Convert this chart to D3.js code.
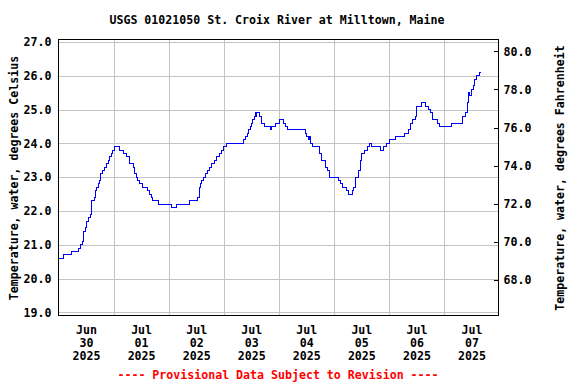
<!DOCTYPE html>
<html><head><meta charset="utf-8">
<script src="https://cdn.jsdelivr.net/npm/d3@7"></script>
<style>
body{margin:0;background:#fff}
text{font-family:"DejaVu Sans Mono",monospace;font-weight:bold;font-size:11.6px;fill:#000}
</style>
</head><body>
<svg id="chart" width="576" height="384"></svg>
<script>
// ---- data ----
const times = [
"2025-06-30 00:00","2025-06-30 02:00","2025-06-30 05:30","2025-06-30 08:30","2025-06-30 09:30",
"2025-06-30 10:15","2025-06-30 10:45","2025-06-30 11:00","2025-06-30 11:45","2025-06-30 12:15",
"2025-06-30 13:00","2025-06-30 13:45","2025-06-30 14:15","2025-06-30 15:30","2025-06-30 16:15",
"2025-06-30 16:45","2025-06-30 17:15","2025-06-30 17:45","2025-06-30 18:30","2025-06-30 19:15",
"2025-06-30 20:00","2025-06-30 21:00","2025-06-30 21:45","2025-06-30 22:15","2025-06-30 23:00",
"2025-06-30 23:30","2025-07-01 00:30","2025-07-01 02:30","2025-07-01 04:15","2025-07-01 05:45",
"2025-07-01 06:45","2025-07-01 08:30","2025-07-01 09:15","2025-07-01 10:00","2025-07-01 10:30",
"2025-07-01 11:30","2025-07-01 12:30","2025-07-01 14:45","2025-07-01 15:45","2025-07-01 16:30",
"2025-07-01 17:00","2025-07-01 19:45","2025-07-02 01:15","2025-07-02 03:15","2025-07-02 09:15",
"2025-07-02 12:45","2025-07-02 13:15","2025-07-02 14:00","2025-07-02 14:30","2025-07-02 15:00",
"2025-07-02 16:00","2025-07-02 16:45","2025-07-02 17:45","2025-07-02 18:45","2025-07-02 20:00",
"2025-07-02 21:00","2025-07-02 22:00","2025-07-02 23:00","2025-07-03 00:00","2025-07-03 01:15",
"2025-07-03 08:30","2025-07-03 09:30","2025-07-03 10:15","2025-07-03 10:45","2025-07-03 11:30",
"2025-07-03 12:15","2025-07-03 12:45","2025-07-03 13:15","2025-07-03 13:45","2025-07-03 14:00",
"2025-07-03 14:15","2025-07-03 15:45","2025-07-03 16:30","2025-07-03 18:00","2025-07-03 20:15",
"2025-07-03 21:00","2025-07-03 22:45","2025-07-04 00:30","2025-07-04 02:00","2025-07-04 02:45",
"2025-07-04 03:45","2025-07-04 11:45","2025-07-04 12:00","2025-07-04 13:00","2025-07-04 13:30",
"2025-07-04 14:00","2025-07-04 14:45","2025-07-04 17:45","2025-07-04 18:45","2025-07-04 20:15",
"2025-07-04 21:15","2025-07-04 22:00","2025-07-05 02:00","2025-07-05 03:00","2025-07-05 04:00",
"2025-07-05 05:30","2025-07-05 06:30","2025-07-05 08:15","2025-07-05 08:45","2025-07-05 09:30",
"2025-07-05 10:45","2025-07-05 11:30","2025-07-05 12:15","2025-07-05 13:15","2025-07-05 14:30",
"2025-07-05 15:45","2025-07-05 16:15","2025-07-05 20:30","2025-07-05 21:30","2025-07-05 23:00",
"2025-07-06 00:15","2025-07-06 03:00","2025-07-06 07:00","2025-07-06 08:30","2025-07-06 09:30",
"2025-07-06 10:30","2025-07-06 11:30","2025-07-06 12:00","2025-07-06 14:15","2025-07-06 15:45",
"2025-07-06 17:15","2025-07-06 18:00","2025-07-06 19:00","2025-07-06 21:00","2025-07-06 22:00",
"2025-07-07 03:30","2025-07-07 08:15","2025-07-07 09:30","2025-07-07 10:15","2025-07-07 10:30",
"2025-07-07 11:15","2025-07-07 12:00","2025-07-07 12:45","2025-07-07 13:30","2025-07-07 14:15",
"2025-07-07 15:30","2025-07-07 16:00"
];
const tempC = [
20.6,20.7,20.8,20.9,21.0,
21.1,21.2,21.4,21.5,21.7,
21.8,21.9,22.3,22.4,22.6,
22.7,22.8,22.9,23.1,23.2,
23.3,23.4,23.5,23.6,23.7,
23.8,23.9,23.8,23.7,23.6,
23.4,23.3,23.1,23.0,22.9,
22.8,22.7,22.6,22.5,22.4,
22.3,22.2,22.1,22.2,22.3,
22.4,22.7,22.8,22.9,23.0,
23.1,23.2,23.3,23.4,23.5,
23.6,23.7,23.8,23.9,24.0,
24.1,24.2,24.3,24.4,24.5,
24.6,24.7,24.8,24.9,24.8,
24.9,24.8,24.6,24.5,24.4,
24.5,24.6,24.7,24.6,24.5,
24.4,24.3,24.2,24.1,24.2,
24.0,23.9,23.7,23.5,23.3,
23.2,23.0,22.9,22.8,22.7,
22.6,22.5,22.6,22.7,23.0,
23.2,23.5,23.7,23.8,23.9,
24.0,23.9,23.8,23.9,24.0,
24.1,24.2,24.3,24.4,24.6,
24.7,24.8,25.1,25.2,25.1,
25.0,24.9,24.7,24.6,24.5,
24.6,24.8,24.9,25.2,25.5,
25.4,25.6,25.7,25.9,26.0,
26.1,26.1
];
const tickC = [19,20,21,22,23,24,25,26,27];
const tickF = [68,70,72,74,76,78,80];
const dayStarts = ["2025-06-30","2025-07-01","2025-07-02","2025-07-03","2025-07-04","2025-07-05","2025-07-06","2025-07-07","2025-07-08"];
const titleText = "USGS 01021050 St. Croix River at Milltown, Maine";
const leftTitle = "Temperature, water, degrees Celsius";
const rightTitle = "Temperature, water, degrees Fahrenheit";
const noteText = "---- Provisional Data Subject to Revision ----";

// ---- drawing ----
const parseT = d3.timeParse("%Y-%m-%d %H:%M");
const parseD = d3.timeParse("%Y-%m-%d");
const data = times.map((t,i)=>({t:parseT(t), v:tempC[i]}));
const days = dayStarts.map(parseD);

const L=58.5, R=498.5, T=39.5, B=315.5;
const svg = d3.select("#chart");

const x = d3.scaleTime().domain([days[0], days[days.length-1]]).range([L, R+0.5]);
const y = d3.scaleLinear().domain([18.91, 27.07]).range([B, T]);
const yF = d3.scaleLinear().domain([66.15, 80.62]).range([B, T]);

// grid
const grid = svg.append("g").attr("shape-rendering","crispEdges");
grid.append("g").attr("transform",`translate(${L},0)`)
  .call(d3.axisLeft(y).tickValues(tickC).tickSize(-(R-L)).tickFormat(""))
  .call(g=>g.select(".domain").remove())
  .call(g=>g.selectAll("line").attr("stroke","#c4c4c4"));
grid.append("g").attr("transform",`translate(0,${B})`)
  .call(d3.axisBottom(x).tickValues(days.slice(1,-1)).tickSize(-(B-T)).tickFormat(""))
  .call(g=>g.select(".domain").remove())
  .call(g=>g.selectAll("line").attr("stroke","#c4c4c4"));

// data line
const line = d3.line().x(d=>x(d.t)).y(d=>y(d.v)).curve(d3.curveStepAfter);
svg.append("path").datum(data).attr("d",line)
  .attr("fill","none").attr("stroke","#0000ff").attr("stroke-width",1)
  .attr("shape-rendering","crispEdges");

// frame
svg.append("rect").attr("x",L).attr("y",T).attr("width",R-L).attr("height",B-T)
  .attr("fill","none").attr("stroke","#000").attr("shape-rendering","crispEdges");

// left axis labels
svg.append("g").attr("transform",`translate(${L},0)`)
  .call(d3.axisLeft(y).tickValues(tickC).tickSize(0).tickPadding(7).tickFormat(d3.format(".1f")))
  .call(g=>g.select(".domain").remove())
  .call(g=>g.selectAll("text").attr("font-family",null).attr("font-size",null));

// right axis
svg.append("g").attr("transform",`translate(${R},0)`).attr("shape-rendering","crispEdges")
  .call(d3.axisRight(yF).tickValues(tickF).tickSize(-5).tickPadding(5).tickFormat(d3.format(".1f")))
  .call(g=>g.select(".domain").remove())
  .call(g=>g.selectAll("line").attr("stroke","#000"))
  .call(g=>g.selectAll("text").attr("font-family",null).attr("font-size",null));

// bottom axis labels (centered at noon)
const noon = days.slice(0,-1).map(d=>d3.timeHour.offset(d,12));
const bx = svg.append("g").attr("transform",`translate(0,${B})`)
  .call(d3.axisBottom(x).tickValues(noon).tickSize(0).tickFormat(""))
  .call(g=>g.select(".domain").remove());
bx.selectAll(".tick").each(function(d){
  const t = d3.select(this).append("text").attr("text-anchor","middle").attr("fill","#000");
  [d3.timeFormat("%b")(d), d3.timeFormat("%d")(d), d3.timeFormat("%Y")(d)].forEach((s,i)=>{
    t.append("tspan").attr("x",0).attr("y",18.5+13*i).text(s);
  });
});

// titles
svg.append("text").attr("x",277).attr("y",24).attr("text-anchor","middle").text(titleText);
svg.append("text").attr("transform","translate(18,178) rotate(-90)").attr("text-anchor","middle").text(leftTitle);
svg.append("text").attr("transform","translate(564,178) rotate(-90)").attr("text-anchor","middle").text(rightTitle);
svg.append("text").attr("x",278).attr("y",379).attr("text-anchor","middle").style("fill","#ff0000").text(noteText);
</script>
</body></html>
